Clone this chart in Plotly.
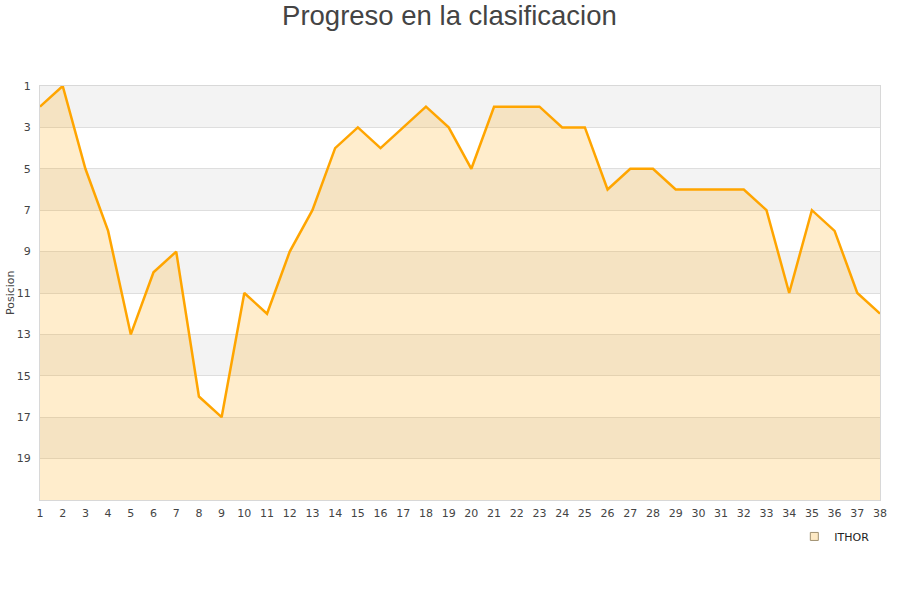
import plotly.graph_objects as go

jornadas = list(range(1, 39))
posiciones = [2, 1, 5, 8, 13, 10, 9, 16, 17, 11, 12, 9, 7, 4, 3, 4, 3, 2, 3, 5,
              2, 2, 2, 3, 3, 6, 5, 5, 6, 6, 6, 6, 7, 11, 7, 8, 11, 12]
equipo = "ITHOR"
y_ticks = list(range(1, 20, 2))
y_min, y_max = 1, 21

fig = go.Figure()

# baseline for the area fill (bottom of the axis)
fig.add_trace(go.Scatter(x=jornadas, y=[y_max] * len(jornadas), mode="lines",
                         line=dict(width=0, color="rgba(0,0,0,0)"),
                         showlegend=False, hoverinfo="skip"))
fig.add_trace(go.Scatter(x=jornadas, y=posiciones, mode="lines", fill="tonexty",
                         fillcolor="rgba(255,165,0,0.2)",
                         line=dict(color="#ffa500", width=2.5),
                         showlegend=False, name=equipo))
# legend entry
fig.add_trace(go.Scatter(x=[None], y=[None], mode="markers", name=equipo,
                         marker=dict(symbol="square", size=8, color="#fde9c4",
                                     line=dict(color="#a09070", width=1))))

shapes = []
for i, lo in enumerate(range(y_min, y_max, 2)):
    if i % 2 == 0:
        shapes.append(dict(type="rect", xref="paper", yref="y", x0=0, x1=1,
                           y0=lo, y1=lo + 2, fillcolor="#f3f3f3",
                           line=dict(width=0), layer="below"))

fig.update_layout(
    width=900, height=600,
    paper_bgcolor="white", plot_bgcolor="white",
    margin=dict(l=40, r=20, t=86, b=100, autoexpand=False),
    title=dict(text="Progreso en la clasificacion", x=0.4994, xanchor="center",
               y=0.975, yanchor="middle",
               font=dict(family="Liberation Sans, Arial", size=27.5, color="#444")),
    font=dict(family="DejaVu Sans", size=11, color="#444"),
    shapes=shapes,
    annotations=[dict(text="Posicion", xref="paper", yref="paper",
                      x=(10 - 40) / 840, y=0.5, textangle=-90, showarrow=False,
                      xanchor="center", yanchor="middle",
                      font=dict(size=11, color="#444"))],
    showlegend=True,
    legend=dict(orientation="h", x=0.898, y=-0.053, xanchor="left", yanchor="top",
                font=dict(size=11, color="#222"), bgcolor="rgba(0,0,0,0)"),
    xaxis=dict(range=[1, 38], tickvals=jornadas, showgrid=False, zeroline=False,
               showline=True, linecolor="#d8d8d8", mirror=True, ticks="",
               automargin=False, ticklabelstandoff=3,
               tickfont=dict(size=11, color="#444")),
    yaxis=dict(range=[y_max, y_min], tickvals=y_ticks, showgrid=True,
               gridcolor="#dedede", zeroline=False, showline=True,
               linecolor="#d8d8d8", mirror=True, ticks="",
               automargin=False, ticklabelstandoff=6,
               tickfont=dict(size=11, color="#444")),
)

fig.write_html("out.html", config={"displayModeBar": False},
               post_script="document.body.style.margin='0';")
